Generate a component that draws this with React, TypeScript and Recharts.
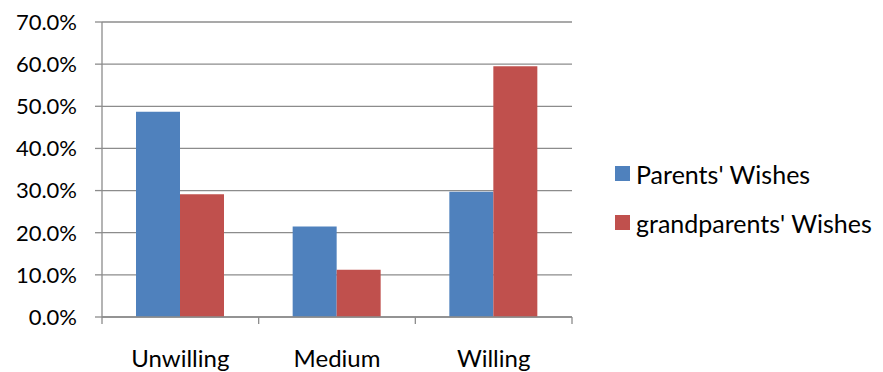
import React from 'react';
import { BarChart, Bar, XAxis, YAxis, CartesianGrid, Legend } from 'recharts';

const categories = ['Unwilling', 'Medium', 'Willing'];
const parentsWishes = [0.487, 0.215, 0.297];
const grandparentsWishes = [0.291, 0.112, 0.595];
const yTicks = [0, 0.1, 0.2, 0.3, 0.4, 0.5, 0.6, 0.7];

const seriesNames = ["Parents' Wishes", "grandparents' Wishes"];
const colors = ['#4F81BD', '#C0504D'];

const data = categories.map((name, i) => ({
  name,
  parents: parentsWishes[i],
  grandparents: grandparentsWishes[i],
}));

const FONT = 'Lato, "Open Sans", sans-serif';
const gridColor = '#8c8c8c';

const pct = (v: number) => `${(v * 100).toFixed(1)}%`;

// label at the category centre, tick marks at the category edges (Excel style)
const CategoryTick = (props: any) => {
  const { x, y, payload, index, width, visibleTicksCount } = props;
  const band = Number(width) / visibleTicksCount;
  const left = x - band / 2;
  const right = x + band / 2;
  return (
    <g>
      <line x1={left} x2={left} y1={y} y2={y + 7} stroke={gridColor} strokeWidth={1.3} />
      {index === visibleTicksCount - 1 && (
        <line x1={right} x2={right} y1={y} y2={y + 7} stroke={gridColor} strokeWidth={1.3} />
      )}
      <text x={x} y={y + 50} textAnchor="middle" fill="#000" fontSize={24} fontFamily={FONT}>
        {payload.value}
      </text>
    </g>
  );
};

const LegendBox = () => (
  <div style={{ fontFamily: FONT, fontSize: 25, color: '#000' }}>
    {seriesNames.map((s, i) => (
      <div key={s} style={{ display: 'flex', alignItems: 'center', height: 49 }}>
        <span style={{ width: 15, height: 15, background: colors[i], marginRight: 6, display: 'inline-block' }} />
        <span>{s}</span>
      </div>
    ))}
  </div>
);

export default function App() {
  return (
    <div style={{ position: 'absolute', left: 0, top: 0, background: '#fff' }}>
      <BarChart
        width={883}
        height={372}
        data={data}
        margin={{ top: 22, right: 311, left: 0, bottom: 0 }}
        barCategoryGap={34}
        barGap={0}
      >
        <CartesianGrid vertical={false} stroke={gridColor} strokeWidth={1.3} />
        <XAxis
          dataKey="name"
          height={55}
          interval={0}
          axisLine={{ stroke: gridColor, strokeWidth: 1.3 }}
          tickLine={false}
          tickSize={0}
          tickMargin={0}
          tick={<CategoryTick />}
        />
        <YAxis
          width={102}
          domain={[0, 0.7]}
          ticks={yTicks}
          tickFormatter={pct}
          axisLine={{ stroke: gridColor, strokeWidth: 1.3 }}
          tickLine={{ stroke: gridColor, strokeWidth: 1.3 }}
          tickSize={7}
          tickMargin={18}
          tick={{ fill: '#000', fontSize: 22, fontFamily: FONT }}
        />
        <Legend
          layout="vertical"
          align="center"
          verticalAlign="middle"
          content={<LegendBox />}
          wrapperStyle={{ position: 'absolute', left: 615, top: 149, width: 'auto' }}
        />
        <Bar dataKey="parents" name={seriesNames[0]} fill={colors[0]} isAnimationActive={false} />
        <Bar dataKey="grandparents" name={seriesNames[1]} fill={colors[1]} isAnimationActive={false} />
      </BarChart>
    </div>
  );
}
